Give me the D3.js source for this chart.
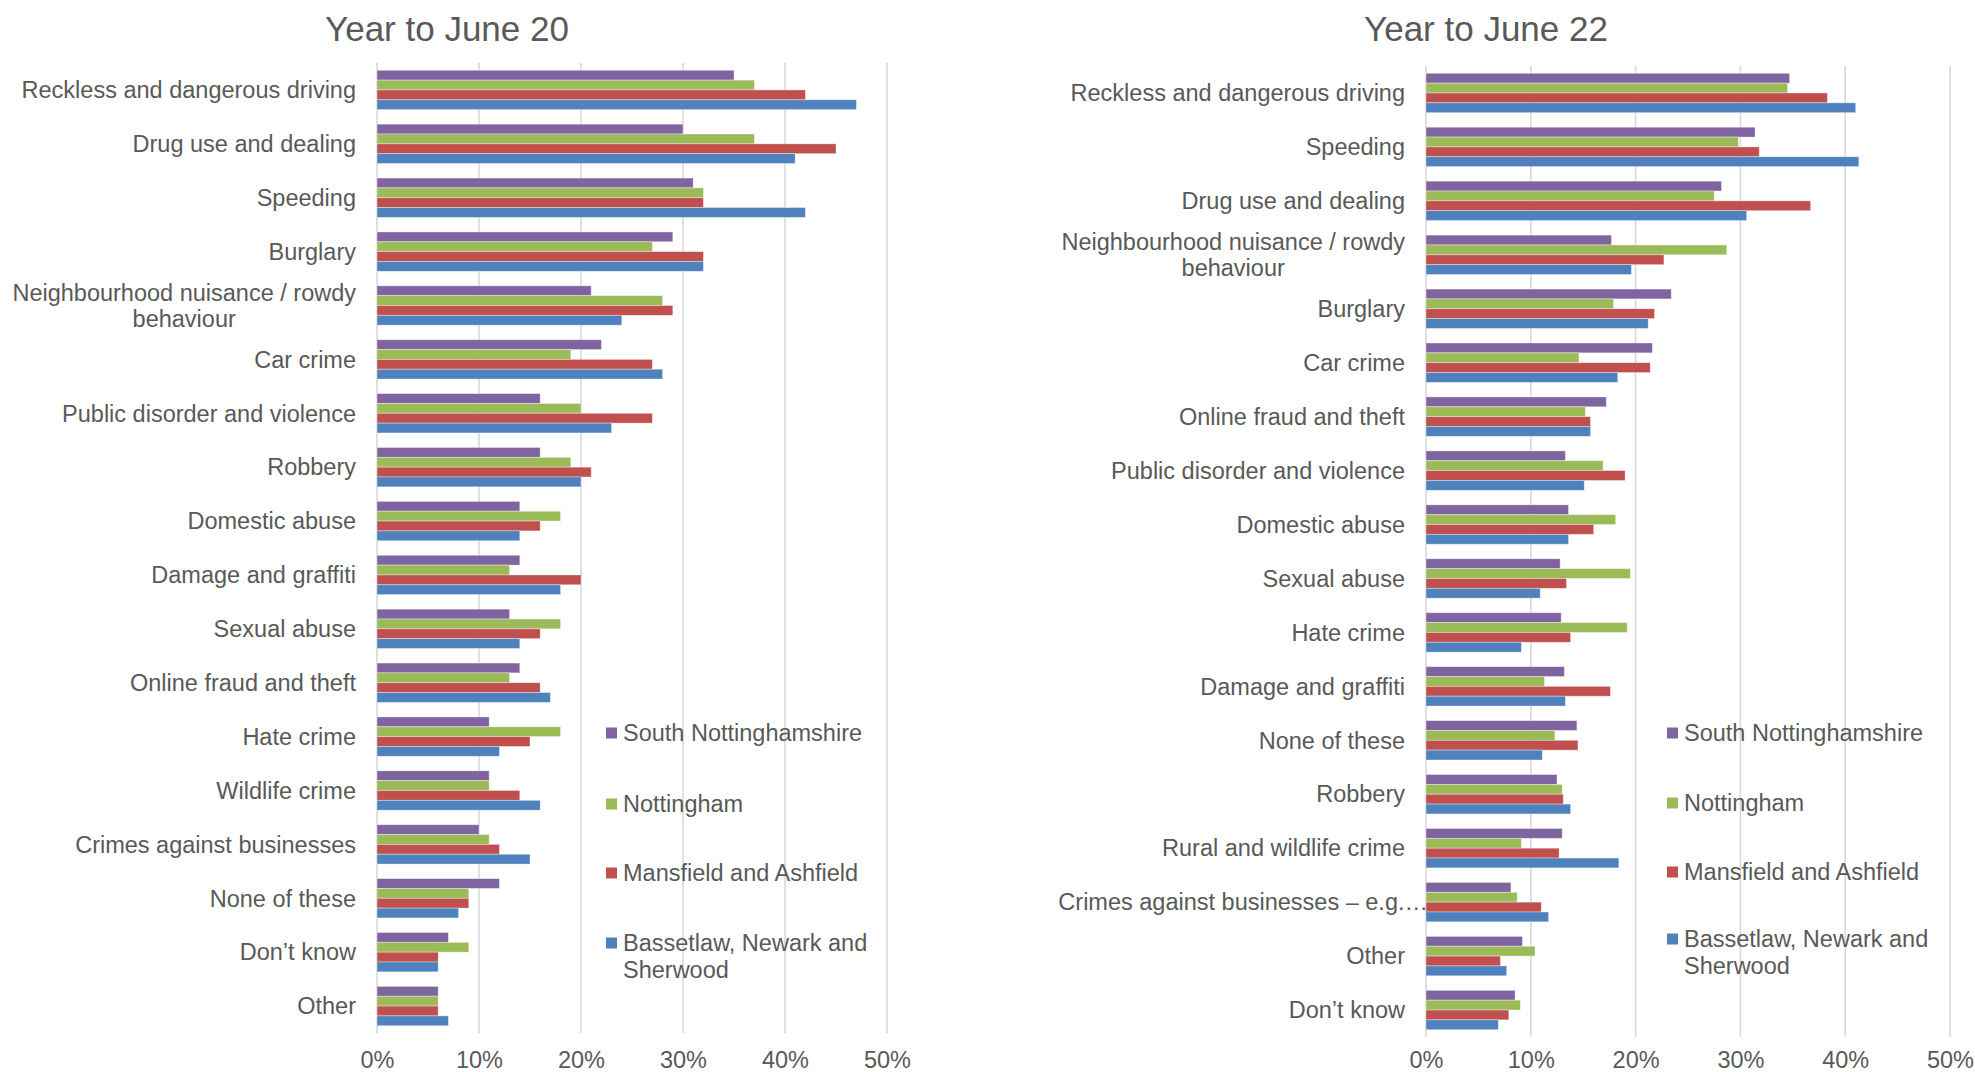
<!DOCTYPE html>
<html>
<head>
<meta charset="utf-8">
<script src="https://cdn.jsdelivr.net/npm/d3@7"></script>
<style>
  html, body { margin: 0; padding: 0; background: #ffffff; }
  svg { display: block; }
  text { font-family: "Liberation Sans", Arial, sans-serif; fill: #595959; }
</style>
</head>
<body>
<svg id="chart" width="1975" height="1072"></svg>
<script>
// ---------- DATA ----------
const seriesNames = ["South Nottinghamshire", "Nottingham", "Mansfield and Ashfield", "Bassetlaw, Newark and Sherwood"];
const seriesColors = ["#8064A2", "#9BBB59", "#C0504D", "#4F81BD"];
const tickValues = [0, 0.1, 0.2, 0.3, 0.4, 0.5];

const titleJune20 = "Year to June 20";
const categoriesJune20 = [
  "Reckless and dangerous driving", "Drug use and dealing", "Speeding", "Burglary",
  "Neighbourhood nuisance / rowdy behaviour", "Car crime", "Public disorder and violence",
  "Robbery", "Domestic abuse", "Damage and graffiti", "Sexual abuse", "Online fraud and theft",
  "Hate crime", "Wildlife crime", "Crimes against businesses", "None of these", "Don\u2019t know", "Other"
];
const southNotts20 = [35, 30, 31, 29, 21, 22, 16, 16, 14, 14, 13, 14, 11, 11, 10, 12, 7, 6];
const nottingham20 = [37, 37, 32, 27, 28, 19, 20, 19, 18, 13, 18, 13, 18, 11, 11, 9, 9, 6];
const mansfield20  = [42, 45, 32, 32, 29, 27, 27, 21, 16, 20, 16, 16, 15, 14, 12, 9, 6, 6];
const bassetlaw20  = [47, 41, 42, 32, 24, 28, 23, 20, 14, 18, 14, 17, 12, 16, 15, 8, 6, 7];

const titleJune22 = "Year to June 22";
const categoriesJune22 = [
  "Reckless and dangerous driving", "Speeding", "Drug use and dealing",
  "Neighbourhood nuisance / rowdy behaviour", "Burglary", "Car crime", "Online fraud and theft",
  "Public disorder and violence", "Domestic abuse", "Sexual abuse", "Hate crime",
  "Damage and graffiti", "None of these", "Robbery", "Rural and wildlife crime",
  "Crimes against businesses \u2013 e.g.\u2026", "Other", "Don\u2019t know"
];
const southNotts22 = [34.7, 31.4, 28.2, 17.7, 23.4, 21.6, 17.2, 13.3, 13.6, 12.8, 12.9, 13.2, 14.4, 12.5, 13.0, 8.1, 9.2, 8.5];
const nottingham22 = [34.5, 29.8, 27.5, 28.7, 17.9, 14.6, 15.2, 16.9, 18.1, 19.5, 19.2, 11.3, 12.3, 13.0, 9.1, 8.7, 10.4, 9.0];
const mansfield22  = [38.3, 31.8, 36.7, 22.7, 21.8, 21.4, 15.7, 19.0, 16.0, 13.4, 13.8, 17.6, 14.5, 13.1, 12.7, 11.0, 7.1, 7.9];
const bassetlaw22  = [41.0, 41.3, 30.6, 19.6, 21.2, 18.3, 15.7, 15.1, 13.6, 10.9, 9.1, 13.3, 11.1, 13.8, 18.4, 11.7, 7.7, 6.9];

// ---------- DRAW ----------
const svg = d3.select("#chart");
const FONT = 23.5;

function drawPanel(cfg) {
  const g = svg.append("g");
  const rows = cfg.categories.map((c, i) => ({
    cat: c,
    vals: cfg.series.map((s, k) => ({ key: seriesNames[k], color: seriesColors[k], v: s[i] / 100 }))
  }));

  const x = d3.scaleLinear().domain([0, 0.5]).range([cfg.x0, cfg.x1]);
  const y = d3.scaleBand().domain(cfg.categories).range([cfg.top, cfg.bottom]).paddingInner(0).paddingOuter(0);
  const ySub = d3.scaleBand().domain(seriesNames).range([0, y.bandwidth()]).paddingInner(0).paddingOuter(0.74);

  // title
  g.append("text")
    .attr("x", cfg.titleX).attr("y", 41)
    .attr("text-anchor", "middle")
    .style("font-size", "35px")
    .text(cfg.title);

  // gridlines
  g.append("g").selectAll("line").data(tickValues).join("line")
    .attr("x1", d => x(d)).attr("x2", d => x(d))
    .attr("y1", cfg.top).attr("y2", cfg.bottom)
    .attr("stroke", "#D9D9D9").attr("stroke-width", 1.6);

  // x tick labels via axis
  const xAxis = d3.axisBottom(x).tickValues(tickValues).tickFormat(d3.format(".0%")).tickSize(0).tickPadding(0);
  const ax = g.append("g").attr("transform", "translate(0, 1068)").call(xAxis);
  ax.select(".domain").remove();
  ax.selectAll("text").style("font-size", FONT + "px").attr("fill", "#595959")
    .attr("font-family", "Liberation Sans, Arial, sans-serif").attr("dy", "0");

  // bars
  const grp = g.append("g").selectAll("g").data(rows).join("g")
    .attr("transform", d => `translate(0, ${y(d.cat)})`);
  grp.selectAll("rect").data(d => d.vals).join("rect")
    .attr("x", x(0))
    .attr("y", d => ySub(d.key))
    .attr("width", d => x(d.v) - x(0))
    .attr("height", ySub.bandwidth())
    .attr("fill", d => d.color)
    .attr("stroke", "#ffffff").attr("stroke-opacity", 0.45).attr("stroke-width", 0.8);

  // category labels
  const labelRight = x(0) - 21;
  const maxW = 358;
  rows.forEach(r => {
    const cy = y(r.cat) + y.bandwidth() / 2;
    const t = g.append("text").style("font-size", FONT + "px");
    if (r.cat.endsWith("\u2026")) {
      t.attr("x", x(0) + 2).attr("y", cy).attr("dy", "0.35em").attr("text-anchor", "end").text(r.cat);
      return;
    }
    t.text(r.cat);
    if (t.node().getComputedTextLength() <= maxW) {
      t.attr("x", labelRight).attr("y", cy).attr("dy", "0.35em").attr("text-anchor", "end");
      return;
    }
    // greedy wrap
    const words = r.cat.split(" ");
    const lines = [];
    let cur = [];
    words.forEach(w => {
      const trial = cur.concat([w]).join(" ");
      t.text(trial);
      if (t.node().getComputedTextLength() > maxW && cur.length) {
        lines.push(cur.join(" "));
        cur = [w];
      } else {
        cur.push(w);
      }
    });
    if (cur.length) lines.push(cur.join(" "));
    let widest = 0;
    lines.forEach(l => { t.text(l); widest = Math.max(widest, t.node().getComputedTextLength()); });
    t.remove();
    const lh = 26;
    const cx = labelRight - widest / 2;
    lines.forEach((l, i) => {
      g.append("text").style("font-size", FONT + "px")
        .attr("x", cx).attr("y", cy + (i - (lines.length - 1) / 2) * lh)
        .attr("dy", "0.35em").attr("text-anchor", "middle").text(l);
    });
  });

  // legend
  const lg = g.append("g");
  seriesNames.forEach((name, k) => {
    const cy = cfg.legendY[k];
    lg.append("rect").attr("x", cfg.legendX).attr("y", cy - 5.5).attr("width", 11).attr("height", 11)
      .attr("fill", seriesColors[k]);
    const t = lg.append("text").style("font-size", FONT + "px")
      .attr("x", cfg.legendX + 17).attr("y", cy).attr("dy", "0.35em");
    if (name === "Bassetlaw, Newark and Sherwood") {
      t.text("Bassetlaw, Newark and");
      lg.append("text").style("font-size", FONT + "px")
        .attr("x", cfg.legendX + 17).attr("y", cy + 27).attr("dy", "0.35em").text("Sherwood");
    } else {
      t.text(name);
    }
  });
}

drawPanel({
  title: titleJune20, titleX: 447,
  categories: categoriesJune20,
  series: [southNotts20, nottingham20, mansfield20, bassetlaw20],
  x0: 377, x1: 887, top: 63, bottom: 1033,
  legendX: 606, legendY: [733, 804, 873, 943]
});

drawPanel({
  title: titleJune22, titleX: 1486,
  categories: categoriesJune22,
  series: [southNotts22, nottingham22, mansfield22, bassetlaw22],
  x0: 1426, x1: 1950, top: 66, bottom: 1037,
  legendX: 1667, legendY: [733, 803, 872, 939]
});
</script>
</body>
</html>
